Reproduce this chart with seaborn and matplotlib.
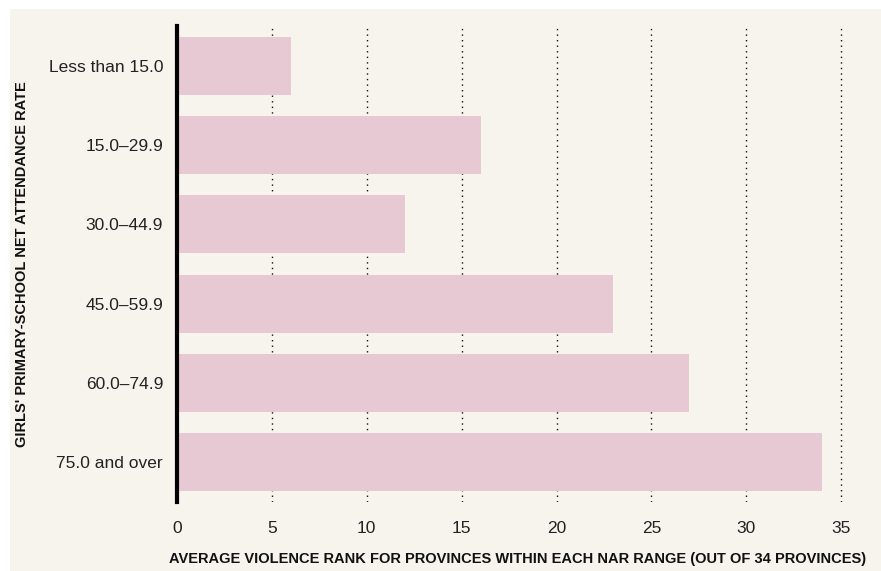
import matplotlib
matplotlib.use('Agg')
import matplotlib.pyplot as plt
import seaborn as sns
import pandas as pd
from matplotlib.patches import Rectangle

# Данные
categories = ['Less than 15.0', '15.0\u201329.9', '30.0\u201344.9',
              '45.0\u201359.9', '60.0\u201374.9', '75.0 and over']
avg_rank = [6, 16, 12, 23, 27, 34]

df = pd.DataFrame({'nar': categories, 'rank': avg_rank})

sns.set_theme(style='white')
plt.rcParams['font.family'] = ['Liberation Sans', 'DejaVu Sans']

bg = '#f7f4ee'
bar_color = '#e7c9d3'

fig = plt.figure(figsize=(8.81, 5.71), dpi=100)
fig.patch.set_facecolor('white')
fig.patches.append(Rectangle((10 / 881, 0), 1, 1 - 9 / 571, transform=fig.transFigure,
                             facecolor=bg, edgecolor='none', zorder=-10))

ax = fig.add_axes([177 / 881, 1 - 502 / 571, (845 - 177) / 881, (502 - 26) / 571])
ax.set_facecolor(bg)

sns.barplot(data=df, x='rank', y='nar', orient='h', color=bar_color,
            saturation=1, width=0.73, linewidth=0, ax=ax, zorder=3)

ax.set_xlim(0, 35.2)
ax.set_xticks(range(0, 36, 5))
# пунктирная сетка
for x in range(5, 36, 5):
    ax.axvline(x, color='#111111', linestyle=(0, (1, 3)), linewidth=1.0, zorder=1)

for s in ['top', 'right', 'bottom']:
    ax.spines[s].set_visible(False)
ax.spines['left'].set_color('black')
ax.spines['left'].set_linewidth(3)
ax.spines['left'].set_zorder(5)

ax.tick_params(axis='both', length=0, labelsize=12.5, colors='#222222')
ax.tick_params(axis='y', pad=10)
ax.tick_params(axis='x', pad=14)

ax.set_xlabel('AVERAGE VIOLENCE RANK FOR PROVINCES WITHIN EACH NAR RANGE (OUT OF 34 PROVINCES)',
              fontsize=10.5, fontweight='bold', color='#111111')
ax.xaxis.set_label_coords(0.51, -0.105)
ax.set_ylabel("GIRLS' PRIMARY-SCHOOL NET ATTENDANCE RATE",
              fontsize=10.5, fontweight='bold', color='#111111')
ax.yaxis.set_label_coords(-0.222, 0.5)

plt.savefig('out.png', dpi=100)
